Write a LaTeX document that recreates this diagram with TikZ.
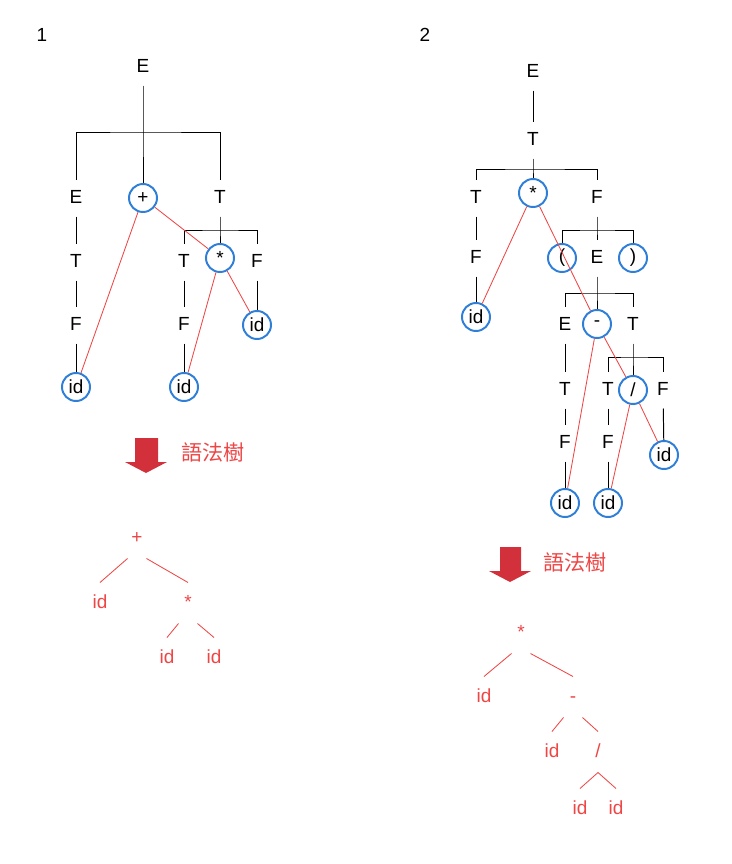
\documentclass[tikz,border=0pt]{standalone}
\usepackage{fontspec}
\setmainfont{Liberation Sans}
\newfontfamily\cjk{Noto Sans CJK TC}
\usepackage{xcolor}
\usepackage{tikz}
\definecolor{opblue}{HTML}{2F7FD8}
\definecolor{astred}{HTML}{EE4545}
\definecolor{arrowred}{HTML}{D2303A}
\tikzset{
  sym/.style={inner sep=0pt, minimum height=0.9cm, text height=0.72em, text depth=0pt},
  op/.style={circle, draw=opblue, line width=1.4pt, minimum size=0.7cm, inner sep=0pt},
  ast/.style={text=astred, inner sep=0pt, minimum width=0.45cm, minimum height=1cm, text height=0.72em, text depth=0pt},
  redline/.style={draw=astred, line width=0.6pt},
  lbl/.style={text=astred, font=\cjk\fontsize{15pt}{17pt}\selectfont}
}

\begin{document}
\begin{tikzpicture}[x=0.025cm, y=-0.025cm, line width=0.7pt, font=\fontsize{13.5pt}{16pt}\selectfont]
    \useasboundingbox (0,0) rectangle (732,864);
    % Numbers
    \node (n1) at (42,35) {1};
    \node (n2) at (425,35) {2};

    % Tree 1
    \node[sym] (r1) at (143,67) {E};
    \node[sym] (e1) at (76,198) {E};
    \node[op] (plus1) at (143,198) {+};
    \node[sym] (t1) at (220,198) {T};
    \node[sym] (t2) at (76,262) {T};
    \node[sym] (f1) at (76,325) {F};
    \node[op] (id1) at (76,387) {id};
    \node[sym] (t3) at (184,262) {T};
    \node[op] (star1) at (220,258) {*};
    \node[sym] (f2) at (257,262) {F};
    \node[sym] (f3) at (184,325) {F};
    \node[op] (id2) at (184,387) {id};
    \node[op] (id3) at (257,325) {id};
    \coordinate (b1) at (143,132);
    \coordinate (b2) at (220,230);
    \draw (r1.south) -- (b1) -- (plus1.north);
    \draw (e1.north) |- (b1) -| (t1.north);
    \draw (t1.south) -- (b2) -- (star1.north);
    \draw (t3.north) |- (b2) -| (f2.north);
    \draw (e1) -- (t2) (t2) -- (f1) (f1) -- (id1);
    \draw (t3) -- (f3) (f3) -- (id2);
    \draw (f2) -- (id3);
    \draw[redline] (plus1) -- (id1) (plus1) -- (star1) (star1) -- (id2) (star1) -- (id3);

    % Tree 2
    \node[sym] (r2) at (533,72) {E};
    \node[sym] (t4) at (533,140) {T};
    \node[sym] (t5) at (476,198) {T};
    \node[op] (star2) at (533,193) {*};
    \node[sym] (f4) at (597,198) {F};
    \node[sym] (f5) at (476,258) {F};
    \node[op] (id4) at (476,317) {id};
    \node[op] (lp) at (562,258) {(};
    \node[sym] (e2) at (597,258) {E};
    \node[op] (rp) at (633,258) {)};
    \node[sym] (e3) at (565,325) {E};
    \node[op] (minus) at (597,324) {-};
    \node[sym] (t6) at (633,325) {T};
    \node[sym] (t7) at (565,390) {T};
    \node[sym] (f6) at (565,443) {F};
    \node[op] (id5) at (565,503) {id};
    \node[sym] (t8) at (608,390) {T};
    \node[op] (slash) at (633,390) {/};
    \node[sym] (f7) at (663,390) {F};
    \node[sym] (f8) at (608,443) {F};
    \node[op] (id6) at (608,503) {id};
    \node[op] (id7) at (664,455) {id};
    \coordinate (b3) at (533,169);
    \coordinate (b4) at (597,230);
    \coordinate (b5) at (597,293);
    \coordinate (b6) at (633,357);
    \draw (r2) -- (t4);
    \draw (t4.south) -- (b3) -- (star2.north);
    \draw (t5.north) |- (b3) -| (f4.north);
    \draw (f4.south) -- (b4) -- (e2.north);
    \draw (lp.north) |- (b4) -| (rp.north);
    \draw (e2.south) -- (b5) -- (minus.north);
    \draw (e3.north) |- (b5) -| (t6.north);
    \draw (t6.south) -- (b6) -- (slash.north);
    \draw (t8.north) |- (b6) -| (f7.north);
    \draw (t5) -- (f5) (f5) -- (id4);
    \draw (e3) -- (t7) (t7) -- (f6) (f6) -- (id5);
    \draw (t8) -- (f8) (f8) -- (id6);
    \draw (f7) -- (id7);
    \draw[redline] (star2) -- (id4) (star2) -- (minus) (minus) -- (id5)
      (minus) -- (slash) (slash) -- (id6) (slash) -- (id7);

    % Arrows
    \fill[arrowred] (135,438) -- (158,438) -- (158,462) -- (167,462) -- (146,473) -- (125,462) -- (135,462) -- cycle;
    \fill[arrowred] (500,547) -- (521,547) -- (521,571) -- (531,571) -- (510,582) -- (489,571) -- (500,571) -- cycle;
    \node[lbl] (lab1) at (213,452) {語法樹};
    \node[lbl] (lab2) at (575,562) {語法樹};

    % Syntax tree 1
    \node[ast] (pa) at (137,538) {+};
    \node[ast] (ia) at (100,603) {id};
    \node[ast] (sa) at (188,603) {*};
    \node[ast] (ib) at (167,658) {id};
    \node[ast] (ic) at (214,658) {id};
    \draw[redline] (pa.south west) -- (ia.north) (pa.south east) -- (sa.north)
      (sa.south west) -- (ib.north) (sa.south east) -- (ic.north);

    % Syntax tree 2
    \node[ast] (sb) at (521,633) {*};
    \node[ast] (ida) at (484,697) {id};
    \node[ast] (mb) at (573,697) {-};
    \node[ast] (idb) at (552,752) {id};
    \node[ast] (sl) at (598,752) {/};
    \node[ast] (idc) at (580,809) {id};
    \node[ast] (idd) at (616,809) {id};
    \draw[redline] (sb.south west) -- (ida.north) (sb.south east) -- (mb.north)
      (mb.south west) -- (idb.north) (mb.south east) -- (sl.north)
      (sl.south) -- (idc.north) (sl.south) -- (idd.north);
\end{tikzpicture}
\end{document}
